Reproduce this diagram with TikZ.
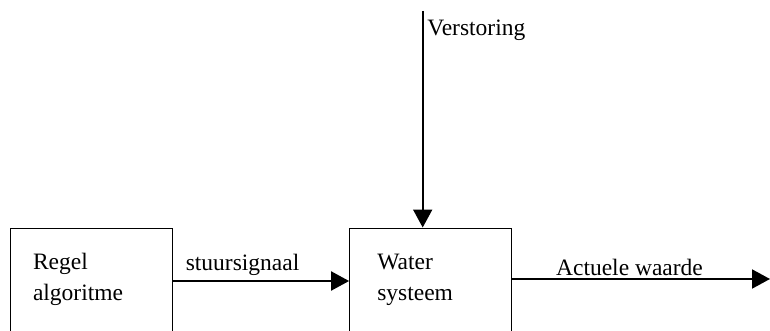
\documentclass[tikz,border=0pt]{standalone}
\usepackage{fontspec}
\setmainfont{Liberation Serif}
\usetikzlibrary{arrows.meta,positioning}

\begin{document}
\begin{tikzpicture}[x=1pt, y=-1pt,
			blok/.style = {draw=black, line width=1pt, minimum width=162pt, minimum height=106pt, inner sep=0pt},
			txt/.style = {font=\fontsize{23.5}{31}\selectfont, align=left, inner sep=0pt},
			flow/.style = {-{Triangle[length=18pt, width=19pt]}, line width=2pt},
		]
			\useasboundingbox (0,0) rectangle (770,331);
			\clip (0,0) rectangle (770,331);

			\node[blok] (regel) at (91.3,281) {};
			\node[blok, right of=regel, node distance=339.3pt] (water) {};

			\node[txt, anchor=north west] (regeltxt) at ([xshift=23pt, yshift=-25pt]regel.north west) {Regel\\algoritme};
			\node[txt, anchor=north west] (watertxt) at ([xshift=28pt, yshift=-26.5pt]water.north west) {Water\\systeem};

			\coordinate (stoor) at (422.7,11);
			\coordinate (uit) at (770,279);

			\draw[flow] (regel) -- node[txt, anchor=base west, pos=0, xshift=12pt, yshift=11pt] (stuurlbl) {stuursignaal} (water);
			\draw[flow] (water.east |- uit) -- node[txt, anchor=base west, pos=0, xshift=43pt, yshift=4pt] (actlbl) {Actuele waarde} (uit);
			\draw[flow] (stoor) -- (stoor |- water.north);
			\node[txt, anchor=base west] (stoorlbl) at ([xshift=4.5pt, yshift=-25pt]stoor) {Verstoring};

		\end{tikzpicture}
\end{document}
